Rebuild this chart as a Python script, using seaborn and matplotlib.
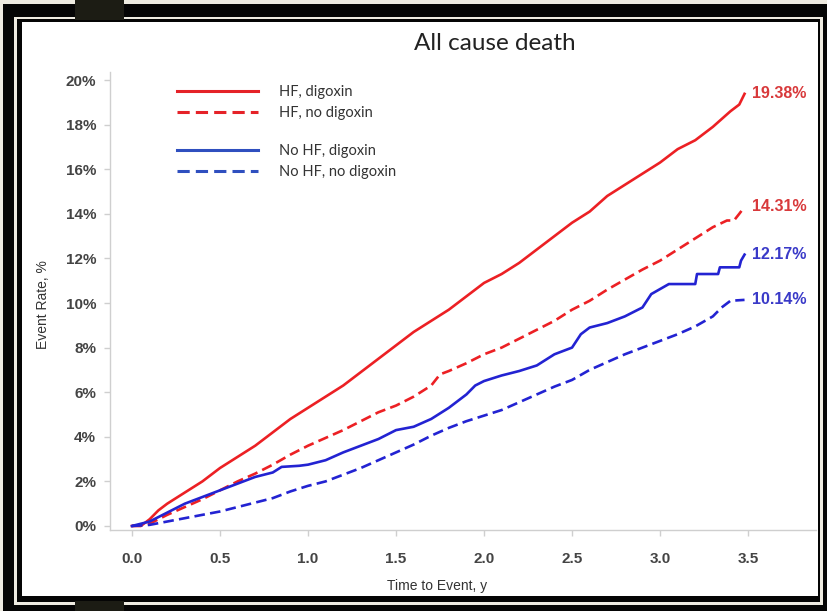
import numpy as np
import pandas as pd
import matplotlib
matplotlib.use("Agg")
import matplotlib.pyplot as plt
from matplotlib.patches import Rectangle
from matplotlib.lines import Line2D
import seaborn as sns

# Event rate (%)
hf_dig_t = [0.0, 0.05, 0.1, 0.15, 0.2, 0.3, 0.4, 0.5, 0.6, 0.7, 0.8, 0.9, 1.0, 1.1, 1.2, 1.3, 1.4,
            1.5, 1.6, 1.7, 1.8, 1.9, 2.0, 2.1, 2.2, 2.3, 2.4, 2.5, 2.6, 2.7, 2.8, 2.9, 3.0, 3.1,
            3.2, 3.3, 3.4, 3.45, 3.48]
hf_dig_v = [0.0, 0.0, 0.3, 0.7, 1.0, 1.5, 2.0, 2.6, 3.1, 3.6, 4.2, 4.8, 5.3, 5.8, 6.3, 6.9, 7.5,
            8.1, 8.7, 9.2, 9.7, 10.3, 10.9, 11.3, 11.8, 12.4, 13.0, 13.6, 14.1, 14.8, 15.3, 15.8,
            16.3, 16.9, 17.3, 17.9, 18.6, 18.9, 19.38]

hf_nodig_t = [0.0, 0.1, 0.2, 0.3, 0.4, 0.5, 0.6, 0.7, 0.8, 0.9, 1.0, 1.1, 1.2, 1.3, 1.4, 1.5, 1.6,
              1.7, 1.75, 1.8, 1.9, 2.0, 2.1, 2.2, 2.3, 2.4, 2.5, 2.6, 2.7, 2.8, 2.9, 3.0, 3.1,
              3.2, 3.3, 3.38, 3.42, 3.45, 3.48]
hf_nodig_v = [0.0, 0.1, 0.5, 0.85, 1.2, 1.6, 2.0, 2.35, 2.75, 3.2, 3.6, 3.95, 4.3, 4.7, 5.1, 5.4,
              5.8, 6.3, 6.8, 6.95, 7.3, 7.7, 8.0, 8.4, 8.8, 9.2, 9.7, 10.1, 10.6, 11.05, 11.5,
              11.9, 12.4, 12.9, 13.4, 13.7, 13.7, 14.0, 14.31]

nohf_dig_t = [0.0, 0.05, 0.1, 0.15, 0.2, 0.25, 0.3, 0.4, 0.5, 0.6, 0.7, 0.8, 0.85, 0.95, 1.0, 1.1,
              1.2, 1.3, 1.4, 1.5, 1.6, 1.7, 1.8, 1.9, 1.95, 2.0, 2.1, 2.2, 2.3, 2.4, 2.5, 2.55,
              2.6, 2.7, 2.8, 2.9, 2.95, 3.05, 3.2, 3.21, 3.33, 3.34, 3.45, 3.46, 3.48]
nohf_dig_v = [0.0, 0.1, 0.2, 0.4, 0.6, 0.8, 1.0, 1.3, 1.6, 1.9, 2.2, 2.4, 2.65, 2.7, 2.75, 2.95,
              3.3, 3.6, 3.9, 4.3, 4.45, 4.8, 5.3, 5.9, 6.3, 6.5, 6.75, 6.95, 7.2, 7.7, 8.0, 8.6,
              8.9, 9.1, 9.4, 9.8, 10.4, 10.85, 10.85, 11.3, 11.3, 11.6, 11.6, 11.9, 12.17]

nohf_nodig_t = [0.0, 0.1, 0.2, 0.3, 0.4, 0.5, 0.6, 0.7, 0.8, 0.9, 1.0, 1.1, 1.2, 1.3, 1.4, 1.5,
                1.6, 1.7, 1.8, 1.9, 2.0, 2.1, 2.2, 2.3, 2.4, 2.5, 2.6, 2.7, 2.8, 2.9, 3.0, 3.1,
                3.2, 3.3, 3.35, 3.4, 3.48]
nohf_nodig_v = [0.0, 0.05, 0.2, 0.35, 0.5, 0.65, 0.85, 1.05, 1.25, 1.55, 1.8, 2.0, 2.3, 2.6, 2.95,
                3.3, 3.65, 4.05, 4.4, 4.7, 4.95, 5.2, 5.55, 5.9, 6.25, 6.55, 7.0, 7.35, 7.7, 8.0,
                8.3, 8.6, 8.95, 9.4, 9.8, 10.1, 10.14]

labels = ["HF, digoxin", "HF, no digoxin", "No HF, digoxin", "No HF, no digoxin"]
end_labels = ["19.38%", "14.31%", "12.17%", "10.14%"]

RED = "#ec2024"
BLUE = "#2323d2"
colors = [RED, RED, BLUE, BLUE]
dashed = [False, True, False, True]
label_colors = ["#d8393b", "#d8393b", "#3a3ac8", "#3a3ac8"]

series = [(hf_dig_t, hf_dig_v), (hf_nodig_t, hf_nodig_v),
          (nohf_dig_t, nohf_dig_v), (nohf_nodig_t, nohf_nodig_v)]

W, H = 827, 611
fig = plt.figure(figsize=(W / 100, H / 100), dpi=100)
fig.patch.set_facecolor("#eeebe1")


def px_rect(x0, y0, x1, y1, color):
    # rectangle given in pixel coords with top-left origin
    fig.patches.append(Rectangle((x0 / W, 1 - y1 / H), (x1 - x0) / W, (y1 - y0) / H,
                                 transform=fig.transFigure, facecolor=color,
                                 edgecolor="none", zorder=-10))


# picture frame
px_rect(3, 4, 827, 611, "#050505")
px_rect(14, 17, 823, 605, "#eeebe1")
px_rect(17, 19, 820, 602, "#050505")
px_rect(22, 22, 818, 596, "#ffffff")
px_rect(75, 0, 124, 20, "#1c1c14")
px_rect(75, 601, 124, 611, "#1c1c14")

ax = fig.add_axes([110 / W, 1 - 530 / H, (816 - 110) / W, (530 - 72) / H])
ax.set_facecolor("none")

for (t, v), c, d in zip(series, colors, dashed):
    df = pd.DataFrame({"t": t, "v": v})
    sns.lineplot(data=df, x="t", y="v", ax=ax, color=c, linewidth=1.9,
                 linestyle=(0, (4, 2)) if d else "-", estimator=None, sort=False)

for (t, v), txt, c in zip(series, end_labels, label_colors):
    ax.text(3.525, v[-1], txt, color=c, fontsize=11.5, fontweight="bold",
            family="Liberation Sans", va="center", ha="left")

ax.set_xlim(-0.125, 3.886)
ax.set_ylim(-0.18, 20.36)
ax.set_xticks(np.arange(0, 3.51, 0.5))
ax.set_xticklabels([f"{x:.1f}" for x in np.arange(0, 3.51, 0.5)])
ax.set_yticks(range(0, 21, 2))
ax.set_yticklabels([f"{y}%" for y in range(0, 21, 2)])
for s in ["top", "right"]:
    ax.spines[s].set_visible(False)
for s in ["left", "bottom"]:
    ax.spines[s].set_color("#cfcfcf")
    ax.spines[s].set_linewidth(1.0)
ax.tick_params(axis="both", colors="#cfcfcf", length=4, width=1.0, labelcolor="#444444",
               labelsize=11)
ax.tick_params(axis="y", pad=6)
ax.tick_params(axis="x", pad=12)
for lab in ax.get_xticklabels() + ax.get_yticklabels():
    lab.set_family("Liberation Sans")
    lab.set_fontweight("bold")
ax.set_xlabel("")
ax.set_ylabel("")

fig.text(495 / W, 1 - 44 / H, "All cause death", ha="center", va="center",
         fontsize=17.5, family="Lato", color="#222222")
fig.text(437 / W, 1 - 586 / H, "Time to Event, y", ha="center", va="center",
         fontsize=10, family="Liberation Sans", color="#333333")
fig.text(43 / W, 1 - 305 / H, "Event Rate, %", ha="center", va="center", rotation=90,
         fontsize=10, family="Liberation Sans", color="#333333")

handles = [Line2D([], [], color="#e52228" if i < 2 else "#2f4fbf", linewidth=2.2,
                  linestyle=(0, (4, 2)) if dashed[i] else "-") for i in range(4)]
leg1 = ax.legend(handles[:2], labels[:2], loc="upper left", frameon=False,
                 bbox_to_anchor=(60 / 706, 1 - 6 / 458), borderpad=0, handlelength=5.5,
                 handletextpad=1.5, labelspacing=0.45,
                 prop={"family": "Lato", "size": 10.5}, labelcolor="#333333")
ax.add_artist(leg1)
ax.legend(handles[2:], labels[2:], loc="upper left", frameon=False,
          bbox_to_anchor=(60 / 706, 1 - 65 / 458), borderpad=0, handlelength=5.5,
          handletextpad=1.5, labelspacing=0.45,
          prop={"family": "Lato", "size": 10.5}, labelcolor="#333333")

fig.savefig("out.png", dpi=100, facecolor=fig.get_facecolor())
